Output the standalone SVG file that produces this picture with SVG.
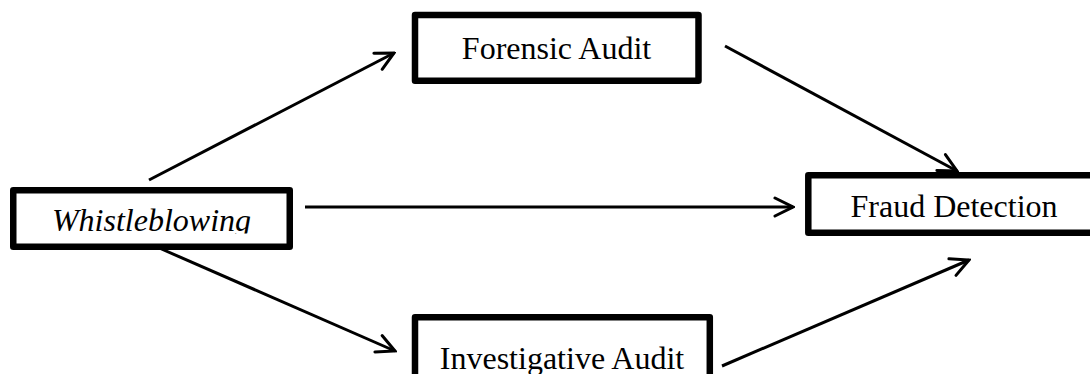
<svg xmlns="http://www.w3.org/2000/svg" width="1090" height="374" viewBox="0 0 1090 374">
  <style>
    .box { fill: #ffffff; stroke: #000000; stroke-width: 6.5; stroke-linejoin: round; }
    .lbl { font-family: "Liberation Serif", "Times New Roman", serif; font-size: 32px; fill: #000000; text-anchor: middle; }
    .conn { stroke: #000000; stroke-width: 3; fill: none; marker-end: url(#arrow); }
  </style>
  <defs>
    <marker id="arrow" viewBox="0 0 22 22" refX="20" refY="11" markerWidth="22" markerHeight="22" markerUnits="userSpaceOnUse" orient="auto">
      <path d="M2,2 L20,11 L2,20" fill="none" stroke="#000000" stroke-width="3" stroke-linecap="round" stroke-linejoin="miter"/>
    </marker>
    <clipPath id="clipWB">
      <rect x="16" y="193" width="271" height="40.5"/>
    </clipPath>
  </defs>
  <rect width="1090" height="374" fill="#ffffff"/>

  <g id="connectors">
    <line class="conn" x1="149" y1="180" x2="394" y2="53"/>
    <line class="conn" x1="725" y1="46" x2="957" y2="171"/>
    <line class="conn" x1="305" y1="207" x2="793" y2="207"/>
    <line class="conn" x1="157" y1="247" x2="395" y2="351"/>
    <line class="conn" x1="722" y1="366" x2="969" y2="260"/>
  </g>

  <g id="whistleblowing">
    <rect class="box" x="13.25" y="190.25" width="276.5" height="56.5"/>
    <text class="lbl" x="151.5" y="231" font-style="italic" clip-path="url(#clipWB)">Whistleblowing</text>
  </g>

  <g id="forensic-audit">
    <rect class="box" x="415" y="15" width="283.5" height="65.7"/>
    <text class="lbl" x="556.5" y="58.5">Forensic Audit</text>
  </g>

  <g id="investigative-audit">
    <rect class="box" x="415" y="317.3" width="294.8" height="70"/>
    <text class="lbl" x="562" y="368.5">Investigative Audit</text>
  </g>

  <g id="fraud-detection">
    <rect class="box" x="808.3" y="175.3" width="295" height="57.4"/>
    <text class="lbl" x="954" y="217">Fraud Detection</text>
  </g>
</svg>
